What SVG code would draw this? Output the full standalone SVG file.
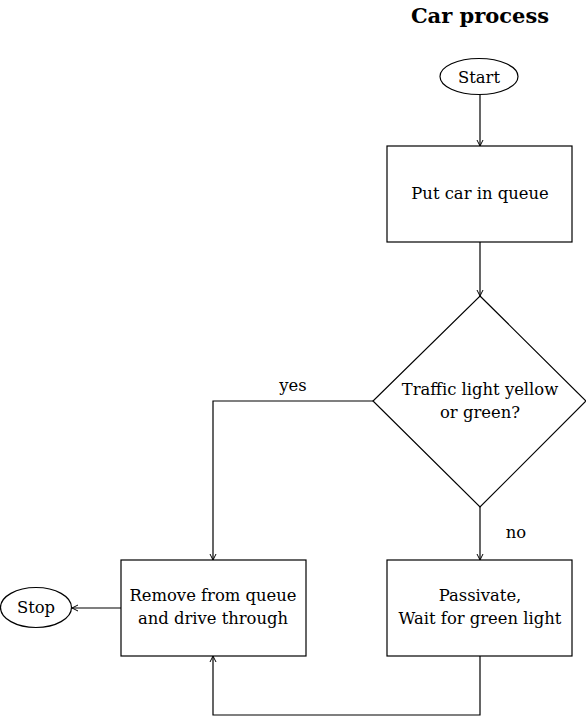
<svg xmlns="http://www.w3.org/2000/svg" width="586" height="716" viewBox="0 0 586 716">
<style>
.s{fill:#fff;stroke:#000;stroke-width:1.2}
.t{font-family:"DejaVu Serif","Liberation Serif",serif;font-size:16.4px;text-anchor:middle;fill:#000}
.c{fill:none;stroke:#000;stroke-width:1.2}
</style>
<defs>
<marker id="a" viewBox="0 0 8 8" refX="7" refY="4" markerWidth="8" markerHeight="8" markerUnits="userSpaceOnUse" orient="auto">
<path d="M1,1 L7,4 L1,7" fill="none" stroke="#000" stroke-width="1"/>
</marker>
</defs>
<rect width="586" height="716" fill="#fff"/>
<text x="480" y="23" class="t" style="font-size:21px;font-weight:bold">Car process</text>
<g id="connectors">
<line class="c" x1="480" y1="95" x2="480" y2="146" marker-end="url(#a)"/>
<line class="c" x1="480" y1="242" x2="480" y2="296" marker-end="url(#a)"/>
<polyline class="c" points="373,401 213,401 213,560" marker-end="url(#a)"/>
<text x="293" y="391" class="t">yes</text>
<line class="c" x1="480" y1="507" x2="480" y2="560" marker-end="url(#a)"/>
<text x="516" y="538" class="t">no</text>
<polyline class="c" points="480,656 480,715 213,715 213,656" marker-end="url(#a)"/>
<line class="c" x1="121" y1="608" x2="72" y2="608" marker-end="url(#a)"/>
</g>
<g id="start">
<ellipse class="s" cx="479" cy="76.5" rx="39" ry="18"/>
<text x="479" y="82.5" class="t">Start</text>
</g>
<g id="queue">
<rect class="s" x="387" y="146" width="185" height="96"/>
<text x="480" y="199" class="t">Put car in queue</text>
</g>
<g id="decision">
<polygon class="s" points="480,296 586,401 480,507 373,401"/>
<text x="480" y="395" class="t">Traffic light yellow</text>
<text x="480" y="418" class="t">or green?</text>
</g>
<g id="remove">
<rect class="s" x="121" y="560" width="185" height="96"/>
<text x="213" y="601" class="t">Remove from queue</text>
<text x="213" y="624" class="t">and drive through</text>
</g>
<g id="passivate">
<rect class="s" x="387" y="560" width="185" height="96"/>
<text x="480" y="601" class="t">Passivate,</text>
<text x="480" y="624" class="t">Wait for green light</text>
</g>
<g id="stop">
<ellipse class="s" cx="36" cy="607.5" rx="35.5" ry="20"/>
<text x="36" y="613" class="t">Stop</text>
</g>
</svg>
